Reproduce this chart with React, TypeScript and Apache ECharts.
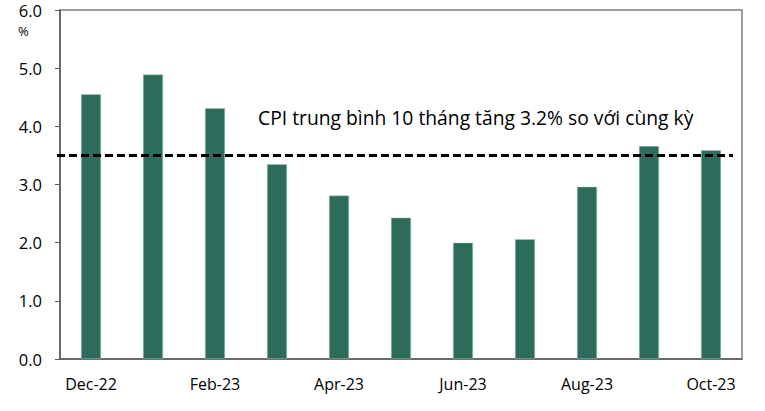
import React, { useEffect, useRef } from "react";
import * as echarts from "echarts";

const categories = ["Dec-22", "Jan-23", "Feb-23", "Mar-23", "Apr-23", "May-23", "Jun-23", "Jul-23", "Aug-23", "Sep-23", "Oct-23"];
const cpiValues = [4.55, 4.89, 4.31, 3.35, 2.81, 2.43, 2.0, 2.06, 2.96, 3.66, 3.59];
const averageLine = 3.51;
const annotation = "CPI trung bình 10 tháng tăng 3.2% so với cùng kỳ";
const yUnit = "%";

export default function App() {
  const ref = useRef<HTMLDivElement>(null);
  useEffect(() => {
    if (!ref.current) return;
    const chart = echarts.init(ref.current, undefined, { renderer: "svg" });
    const font = "'Open Sans', 'Noto Sans', sans-serif";
    chart.setOption({
      animation: false,
      backgroundColor: "#ffffff",
      grid: { left: 60, right: 23, top: 10, bottom: 52, show: true, borderColor: "#7f7f7f", borderWidth: 1.5 },
      xAxis: {
        type: "category",
        data: categories,
        axisLine: { lineStyle: { color: "#595959", width: 1.5 } },
        axisTick: { show: false },
        axisLabel: { interval: 1, color: "#000", fontSize: 16, fontFamily: font, margin: 17 },
      },
      yAxis: {
        type: "value",
        min: 0,
        max: 6,
        interval: 1,
        axisLine: { show: true, lineStyle: { color: "#595959", width: 1.5 } },
        axisTick: { show: true, length: 5, lineStyle: { color: "#595959" } },
        splitLine: { show: false },
        axisLabel: { color: "#000", fontSize: 16.5, fontFamily: font, margin: 18, formatter: (v: number) => v.toFixed(1) },
      },
      graphic: [
        { type: "text", x: 18, y: 24, style: { text: yUnit, fontSize: 13, fontFamily: font, fill: "#000" } },
        { type: "text", x: 258, y: 117, style: { text: annotation, fontSize: 19.3, fontFamily: font, fill: "#000", verticalAlign: "middle" } },
      ],
      series: [
        {
          type: "bar",
          data: cpiValues,
          barWidth: 20,
          itemStyle: { color: "#2d6b5a", borderColor: "#a9cfc2", borderWidth: 0.5 },
          markLine: {
            silent: true,
            symbol: "none",
            label: { show: false },
            lineStyle: { color: "#000", type: [8, 4], width: 2.8 },
            data: [[{ x: 57, yAxis: averageLine }, { x: 733, yAxis: averageLine }]],
          },
        },
      ],
    });
    return () => chart.dispose();
  }, []);
  return <div ref={ref} style={{ position: "absolute", left: 0, top: 0, width: 765, height: 411 }} />;
}
